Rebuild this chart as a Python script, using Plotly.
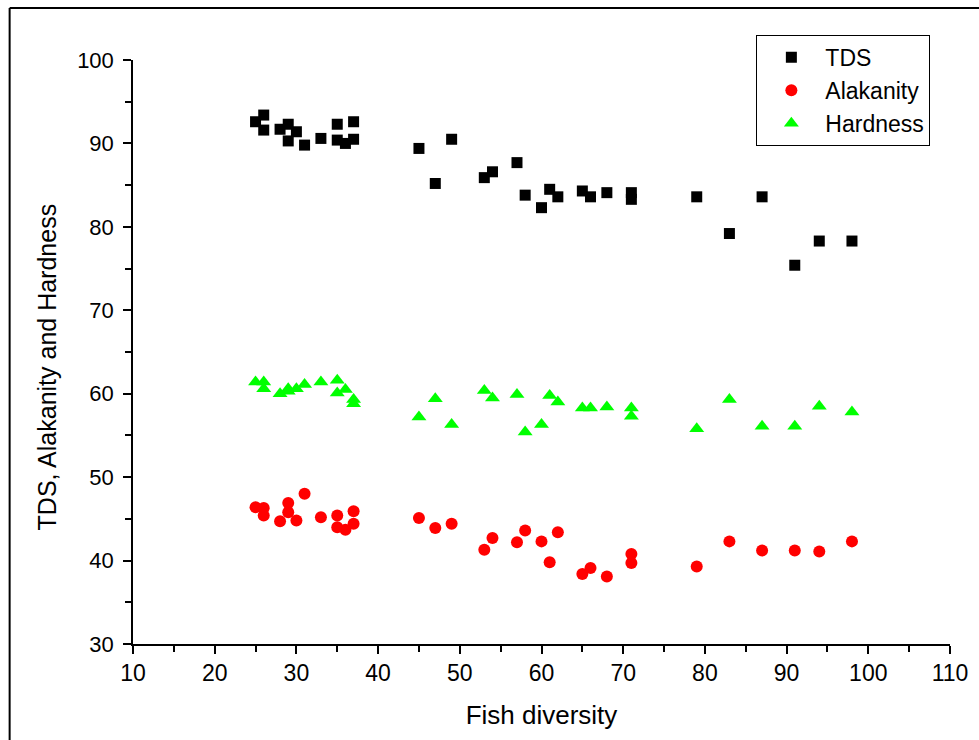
import plotly.graph_objects as go

fish_diversity = [25, 26, 26, 28, 29, 29, 30, 31, 33, 35, 35, 36, 37, 37,
                  45, 47, 49, 53, 54, 57, 58, 60, 61, 62, 65, 66, 68, 71, 71,
                  79, 83, 87, 91, 94, 98]

tds = [92.6, 93.4, 91.6, 91.7, 92.3, 90.3, 91.4, 89.8, 90.6, 92.3, 90.4, 90.0, 92.6, 90.5,
       89.4, 85.2, 90.5, 85.9, 86.6, 87.7, 83.8, 82.3, 84.5, 83.6, 84.3, 83.6, 84.1, 84.1, 83.3,
       83.6, 79.2, 83.6, 75.4, 78.3, 78.3]

alkalinity = [46.4, 46.3, 45.4, 44.7, 46.9, 45.8, 44.8, 48.0, 45.2, 45.4, 44.0, 43.7, 45.9, 44.4,
              45.1, 43.9, 44.4, 41.3, 42.7, 42.2, 43.6, 42.3, 39.8, 43.4, 38.4, 39.1, 38.1, 40.8, 39.7,
              39.3, 42.3, 41.2, 41.2, 41.1, 42.3]

hardness = [61.4, 61.4, 60.6, 60.0, 60.6, 60.3, 60.6, 61.1, 61.4, 61.6, 60.1, 60.5, 59.3, 58.8,
            57.2, 59.4, 56.3, 60.4, 59.5, 59.9, 55.4, 56.3, 59.8, 59.0, 58.3, 58.3, 58.4, 58.3, 57.3,
            55.8, 59.3, 56.1, 56.1, 58.5, 57.8]

FONT = "Liberation Sans, Arial, sans-serif"

fig = go.Figure()
fig.add_trace(go.Scatter(x=fish_diversity, y=tds, mode="markers", name="TDS",
                         marker=dict(symbol="square", size=11, color="black")))
fig.add_trace(go.Scatter(x=fish_diversity, y=alkalinity, mode="markers", name="Alakanity",
                         marker=dict(symbol="circle", size=12, color="#ff0000")))
fig.add_trace(go.Scatter(x=fish_diversity, y=hardness, mode="markers", name="Hardness",
                         marker=dict(symbol="triangle-up", size=13, color="#00ff00")))

axis_common = dict(showgrid=False, zeroline=False, showline=True, linecolor="black",
                   linewidth=1.5, ticks="outside", ticklen=8, tickwidth=1.5, tickcolor="black",
                   mirror=False, automargin=False)

fig.update_xaxes(range=[10, 110], dtick=10, tick0=10,
                 minor=dict(ticks="outside", dtick=5, ticklen=6, tickwidth=1.5, tickcolor="black"),
                 title=dict(text="Fish diversity", font=dict(family=FONT, size=26, color="black"), standoff=20),
                 tickfont=dict(family=FONT, size=23, color="black"),
                 **axis_common)
fig.update_yaxes(range=[30, 100], dtick=10, tick0=30,
                 minor=dict(ticks="outside", dtick=5, ticklen=6, tickwidth=1.5, tickcolor="black"),
                 tickfont=dict(family=FONT, size=22, color="black"),
                 ticklabelstandoff=5,
                 **axis_common)

fig.update_layout(
    width=979, height=740,
    margin=dict(l=133, r=29, t=60, b=96),
    plot_bgcolor="white", paper_bgcolor="white",
    legend=dict(x=0.763, y=1.043, xanchor="left", yanchor="top",
                bordercolor="black", borderwidth=1, bgcolor="white",
                font=dict(family=FONT, size=23, color="black"),
                tracegroupgap=0, itemsizing="trace", itemwidth=58),
    annotations=[
        dict(text="TDS, Alakanity and Hardness", xref="paper", yref="paper",
             x=-0.105, y=0.474, xanchor="center", yanchor="middle", textangle=-90,
             showarrow=False, font=dict(family=FONT, size=25, color="black")),
    ],
    shapes=[
        dict(type="line", xref="paper", yref="paper", x0=-0.151, x1=1.1, y0=1.089, y1=1.089,
             line=dict(color="black", width=2)),
        dict(type="line", xref="paper", yref="paper", x0=-0.151, x1=-0.151, y0=1.089, y1=-0.2,
             line=dict(color="black", width=2)),
    ],
)

fig.write_html("out.html")
